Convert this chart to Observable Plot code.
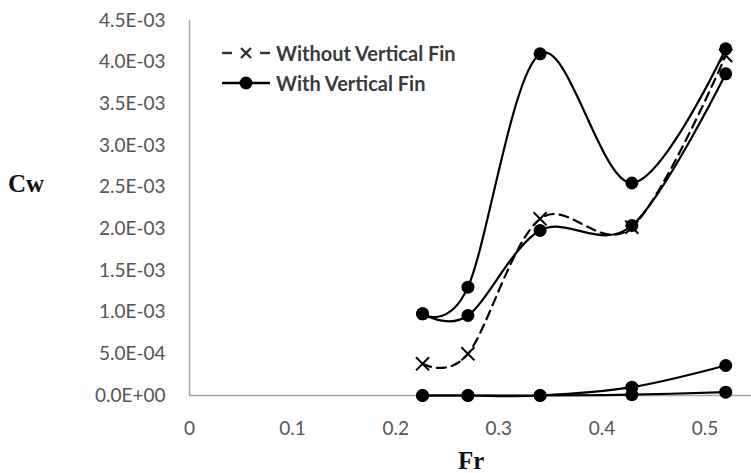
<!DOCTYPE html>
<html>
<head>
<meta charset="utf-8">
<script src="https://cdn.jsdelivr.net/npm/d3@7"></script>
<script src="https://cdn.jsdelivr.net/npm/@observablehq/plot@0.6"></script>
<style>
  html, body { margin: 0; padding: 0; background: #fff; }
  #wrap { position: relative; width: 751px; height: 473px; overflow: hidden; }
  #wrap svg { position: absolute; left: 0; top: 0; }
  .axlab { position: absolute; font-family: "Liberation Serif", serif; font-weight: bold; font-size: 25px; color: #111; line-height: 1; }
  .leg { position: absolute; font-family: Lato, sans-serif; font-size: 20px; font-weight: bold; color: #3a3a3a; display: flex; align-items: center; white-space: nowrap; }
  .leg svg { position: static !important; margin-right: 6px; }
</style>
</head>
<body>
<div id="wrap"></div>
<script>
// Data
const fr = [0.226, 0.270, 0.340, 0.429, 0.520];
const withoutFin = [0.00038, 0.00050, 0.00212, 0.00202, 0.00408];
const withFinA = [0.00098, 0.00130, 0.00410, 0.00255, 0.00416];
const withFinB = [0.00098, 0.00096, 0.00198, 0.00204, 0.00386];
const withFinC = [0, 0, 0, 0.00010, 0.00036];
const withFinD = [0, 0, 0, 0.00001, 0.00004];

const yTicks = [0, 0.0005, 0.001, 0.0015, 0.002, 0.0025, 0.003, 0.0035, 0.004, 0.0045];
const yTickLabels = ["0.0E+00", "5.0E-04", "1.0E-03", "1.5E-03", "2.0E-03", "2.5E-03", "3.0E-03", "3.5E-03", "4.0E-03", "4.5E-03"];
const xTicks = [0, 0.1, 0.2, 0.3, 0.4, 0.5];
const xTickLabels = ["0", "0.1", "0.2", "0.3", "0.4", "0.5"];
const seriesNames = ["Without Vertical Fin", "With Vertical Fin"];

const toRows = (vals, s) => fr.map((x, i) => ({x, y: vals[i], s}));
const dashed = toRows(withoutFin, "without");
const solidSets = [withFinA, withFinB, withFinC, withFinD].map((v, k) => toRows(v, "with" + k));
const solidAll = solidSets.flat();

const chart = Plot.plot({
  width: 751,
  height: 473,
  marginLeft: 189,
  marginRight: 0,
  marginTop: 20,
  marginBottom: 78,
  style: {fontFamily: "Lato, sans-serif", color: "#555555", background: "#fff"},
  x: {domain: [0, 0.545]},
  y: {domain: [0, 0.0045]},
  marks: [
    Plot.ruleY([0], {stroke: "#a6a6a6", strokeWidth: 1.5}),
    Plot.ruleX([0], {stroke: "#a6a6a6", strokeWidth: 1.5}),
    Plot.axisY({ticks: yTicks, tickFormat: d => yTickLabels[yTicks.indexOf(d)], tickSize: 0, tickPadding: 24, fontSize: 19, label: null}),
    Plot.axisX({ticks: xTicks, tickFormat: d => xTickLabels[xTicks.indexOf(d)], tickSize: 0, tickPadding: 26, fontSize: 19, label: null}),
    ...solidSets.map(rows => Plot.line(rows, {x: "x", y: "y", curve: "cardinal", tension: 0, stroke: "#000", strokeWidth: 2.2})),
    Plot.line(dashed, {x: "x", y: "y", curve: "cardinal", tension: 0, stroke: "#000", strokeWidth: 2.2, strokeDasharray: "9,6"}),
    Plot.dot(solidAll, {x: "x", y: "y", r: 6.5, fill: "#000", stroke: "none"}),
    Plot.dot(dashed, {x: "x", y: "y", symbol: "times", r: 6, stroke: "#000", strokeWidth: 2})
  ]
});

const wrap = document.getElementById("wrap");
wrap.appendChild(chart);

function addLabel(text, left, top) {
  const d = document.createElement("div");
  d.className = "axlab";
  d.textContent = text;
  d.style.left = left + "px";
  d.style.top = top + "px";
  wrap.appendChild(d);
}
addLabel("Cw", 8, 171);
addLabel("Fr", 458, 448);

function addLegend(name, markerSvg, top) {
  const d = document.createElement("div");
  d.className = "leg";
  d.style.left = "222px";
  d.style.top = top + "px";
  d.innerHTML = markerSvg + "<span>" + name + "</span>";
  wrap.appendChild(d);
}
addLegend(seriesNames[0],
  '<svg width="48" height="20" viewBox="0 0 48 20"><line x1="0" y1="10" x2="10" y2="10" stroke="#333" stroke-width="2.4"/><line x1="38" y1="10" x2="48" y2="10" stroke="#333" stroke-width="2.4"/><path d="M19,5 L29,15 M29,5 L19,15" stroke="#333" stroke-width="2.4"/></svg>',
  41);
addLegend(seriesNames[1],
  '<svg width="48" height="20" viewBox="0 0 48 20"><line x1="0" y1="10" x2="48" y2="10" stroke="#000" stroke-width="2.6"/><circle cx="24" cy="10" r="6.5" fill="#000"/></svg>',
  71);
</script>
</body>
</html>
